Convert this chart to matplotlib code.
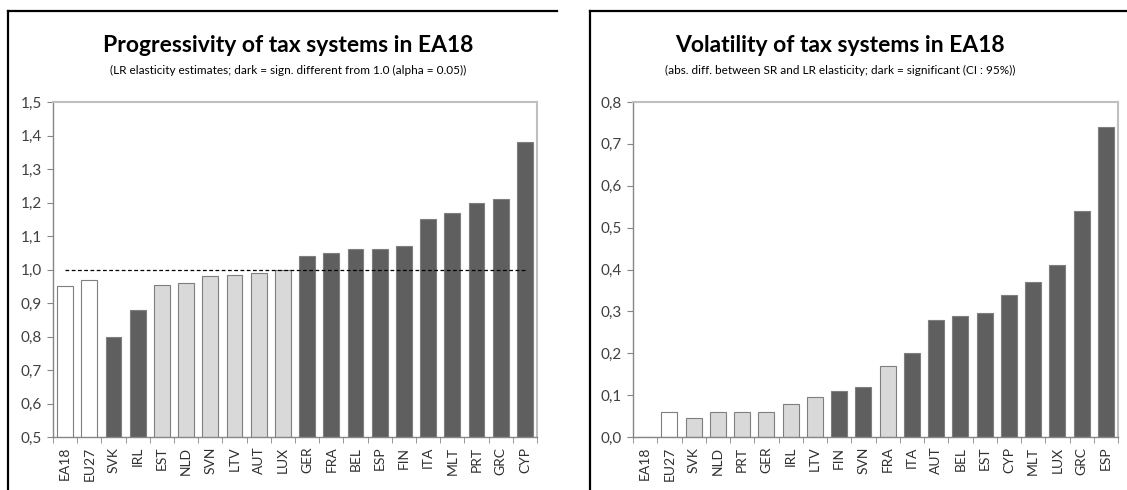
import numpy as np
import matplotlib
matplotlib.use('Agg')
import matplotlib.pyplot as plt
from matplotlib.lines import Line2D

plt.rcParams['font.family'] = ['Lato', 'DejaVu Sans']

# left chart: progressivity (LR elasticity)
prog_labels = ["EA18", "EU27", "SVK", "IRL", "EST", "NLD", "SVN", "LTV", "AUT", "LUX",
               "GER", "FRA", "BEL", "ESP", "FIN", "ITA", "MLT", "PRT", "GRC", "CYP"]
prog_values = [0.95, 0.97, 0.80, 0.88, 0.955, 0.96, 0.98, 0.985, 0.99, 1.0,
               1.04, 1.05, 1.06, 1.06, 1.07, 1.15, 1.17, 1.20, 1.21, 1.38]
# 0 = aggregate (white), 1 = not significant (light), 2 = significant (dark)
prog_groups = [0, 0, 2, 2, 1, 1, 1, 1, 1, 1,
               2, 2, 2, 2, 2, 2, 2, 2, 2, 2]

# right chart: volatility (abs diff SR vs LR)
vol_labels = ["EA18", "EU27", "SVK", "NLD", "PRT", "GER", "IRL", "LTV", "FIN", "SVN",
              "FRA", "ITA", "AUT", "BEL", "EST", "CYP", "MLT", "LUX", "GRC", "ESP"]
vol_values = [0.0, 0.06, 0.045, 0.06, 0.06, 0.06, 0.08, 0.095, 0.11, 0.12,
              0.17, 0.20, 0.28, 0.29, 0.295, 0.34, 0.37, 0.41, 0.54, 0.74]
vol_groups = [0, 0, 1, 1, 1, 1, 1, 1, 2, 2,
              1, 2, 2, 2, 2, 2, 2, 2, 2, 2]

colors = {0: "#ffffff", 1: "#d9d9d9", 2: "#5f5f5f"}

fig = plt.figure(figsize=(11.27, 4.9), dpi=100)

W, H = 1127.0, 490.0


def frame(x0, x1, y0):
    # outer chart frame (only top + left visible, cropped)
    fig.add_artist(Line2D([x0 / W, x0 / W], [0, 1 - y0 / H], color="black", lw=1.6,
                          transform=fig.transFigure))
    fig.add_artist(Line2D([x0 / W, x1 / W], [1 - y0 / H, 1 - y0 / H], color="black", lw=1.6,
                          transform=fig.transFigure))


def bar_chart(rect, labels, values, groups, ylim, step, title, subtitle, cx):
    ax = fig.add_axes(rect)
    x = np.arange(len(labels))
    cols = [colors[g] for g in groups]
    ax.bar(x, values, width=0.65, bottom=0, color=cols, edgecolor="#7f7f7f", linewidth=0.8, zorder=2)
    ax.set_xlim(-0.5, len(labels) - 0.5)
    ax.set_ylim(*ylim)
    ticks = np.arange(ylim[0], ylim[1] + step / 2, step)
    ax.set_yticks(ticks)
    ax.set_yticklabels([f"{v:.1f}".replace(".", ",") for v in ticks],
                       fontsize=11, color="#404040")
    ax.set_xticks(x)
    ax.set_xticklabels(labels, rotation=90, fontsize=10, color="#303030")
    ax.tick_params(axis="x", length=0, pad=7)
    ax.set_xticks(np.arange(-0.5, len(labels), 1), minor=True)
    ax.tick_params(axis="x", which="minor", length=4, color="#868686", direction="out")
    ax.tick_params(axis="y", length=4, color="#868686", direction="out", pad=4)
    for s in ["left", "bottom"]:
        ax.spines[s].set_color("#868686")
        ax.spines[s].set_linewidth(1.0)
    for s in ["top", "right"]:
        ax.spines[s].set_color("#bfbfbf")
        ax.spines[s].set_linewidth(1.5)
    fig.text(cx / W, 1 - 45 / H, title, ha="center", va="center", fontsize=16.5, fontweight="bold")
    fig.text(cx / W, 1 - 70 / H, subtitle, ha="center", va="center", fontsize=8.5)
    return ax


frame(8, 557, 11)
frame(590, 1140, 11)

axl = bar_chart([53 / W, 1 - 437 / H, (537 - 53) / W, (437 - 102) / H],
                prog_labels, prog_values, prog_groups, (0.5, 1.5), 0.1,
                "Progressivity of tax systems in EA18",
                "(LR elasticity estimates; dark = sign. different from 1.0 (alpha = 0.05))", 288)
axl.plot(np.arange(len(prog_labels)), [1.0] * len(prog_labels), color="black", lw=0.9,
         ls=(0, (3, 2)), zorder=3)

axr = bar_chart([633 / W, 1 - 437 / H, (1118 - 633) / W, (437 - 102) / H],
                vol_labels, vol_values, vol_groups, (0.0, 0.8), 0.1,
                "Volatility of tax systems in EA18",
                "(abs. diff. between SR and LR elasticity; dark = significant (CI : 95%))", 840)

fig.savefig("out.png", dpi=100)
